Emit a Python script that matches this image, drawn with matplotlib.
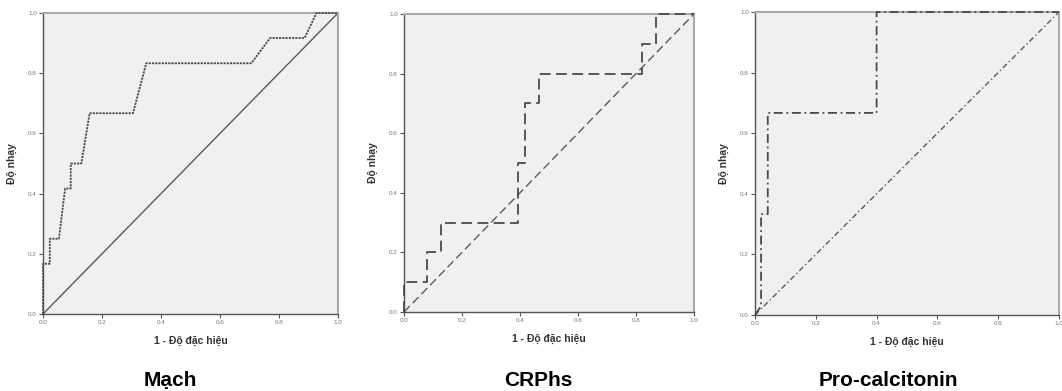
import matplotlib
matplotlib.use("Agg")
import matplotlib.pyplot as plt

# Data
titles = ["Mạch", "CRPhs", "Pro-calcitonin"]
mach_fpr = [0.0, 0.0, 0.023, 0.023, 0.054, 0.075, 0.094, 0.094, 0.13, 0.158, 0.305, 0.35, 0.706, 0.77, 0.887, 0.927, 1.0]
mach_tpr = [0.0, 0.167, 0.167, 0.25, 0.25, 0.417, 0.417, 0.5, 0.5, 0.667, 0.667, 0.833, 0.833, 0.917, 0.917, 1.0, 1.0]
crp_fpr = [0.0, 0.0, 0.079, 0.079, 0.126, 0.126, 0.393, 0.393, 0.418, 0.418, 0.466, 0.466, 0.82, 0.82, 0.87, 0.87, 1.0]
crp_tpr = [0.0, 0.1, 0.1, 0.2, 0.2, 0.3, 0.3, 0.5, 0.5, 0.7, 0.7, 0.8, 0.8, 0.9, 0.9, 1.0, 1.0]
pct_fpr = [0.0, 0.02, 0.02, 0.042, 0.042, 0.40, 0.40, 1.0]
pct_tpr = [0.0, 0.03, 0.333, 0.333, 0.667, 0.667, 1.0, 1.0]
ticks = [0.0, 0.2, 0.4, 0.6, 0.8, 1.0]
tick_labels = ["0.0", "0.2", "0.4", "0.6", "0.8", "1.0"]

plt.rcParams['font.family'] = ['Liberation Sans', 'DejaVu Sans']

fig = plt.figure(figsize=(10.62, 3.91), dpi=100)
fig.patch.set_facecolor('white')

positions = [
    [43/1062, (391-314)/391, 295/1062, 301/391],
    [404/1062, (391-312)/391, 290/1062, 298/391],
    [755/1062, (391-315)/391, 304/1062, 303/391],
]
curves = [(mach_fpr, mach_tpr), (crp_fpr, crp_tpr), (pct_fpr, pct_tpr)]
curve_styles = [(0, (1.2, 0.6)), (0, (6, 3)), (0, (5, 2, 1, 2))]
diag_styles = ['-', (0, (6, 3)), (0, (4, 2, 1, 2))]
title_x = [170/1062, 538/1062, 888/1062]

for i in range(3):
    ax = fig.add_axes(positions[i])
    ax.set_facecolor('#f0f0f0')
    fx, ty = curves[i]
    ax.plot([0, 1], [0, 1], color='#5a5a5a', lw=1.0, linestyle=diag_styles[i], zorder=2)
    ax.plot(fx, ty, color='#4a4a4a', lw=1.3, linestyle=curve_styles[i], zorder=3, clip_on=False)
    ax.set_xlim(0, 1)
    ax.set_ylim(0, 1)
    ax.set_xticks(ticks)
    ax.set_yticks(ticks)
    ax.set_xticklabels(tick_labels, fontsize=4.5, color='#777777')
    ax.set_yticklabels(tick_labels, fontsize=4.5, color='#777777')
    ax.tick_params(length=3, width=0.8, color='#555555', pad=1.5)
    for s in ['left', 'bottom']:
        ax.spines[s].set_color('#555555')
        ax.spines[s].set_linewidth(1.0)
    for s in ['top', 'right']:
        ax.spines[s].set_color('#aaaaaa')
        ax.spines[s].set_linewidth(1.5)
    ax.set_xlabel("1 - Độ đặc hiệu", fontsize=7.5, fontweight='bold', color='#333333', labelpad=8)
    ax.set_ylabel("Độ nhạy", fontsize=7.5, fontweight='bold', color='#333333', labelpad=8)
    fig.text(title_x[i], (391-386)/391, titles[i], ha='center', va='baseline', fontsize=15, fontweight='bold', color='black')

fig.savefig('out.png', dpi=100, facecolor='white')
